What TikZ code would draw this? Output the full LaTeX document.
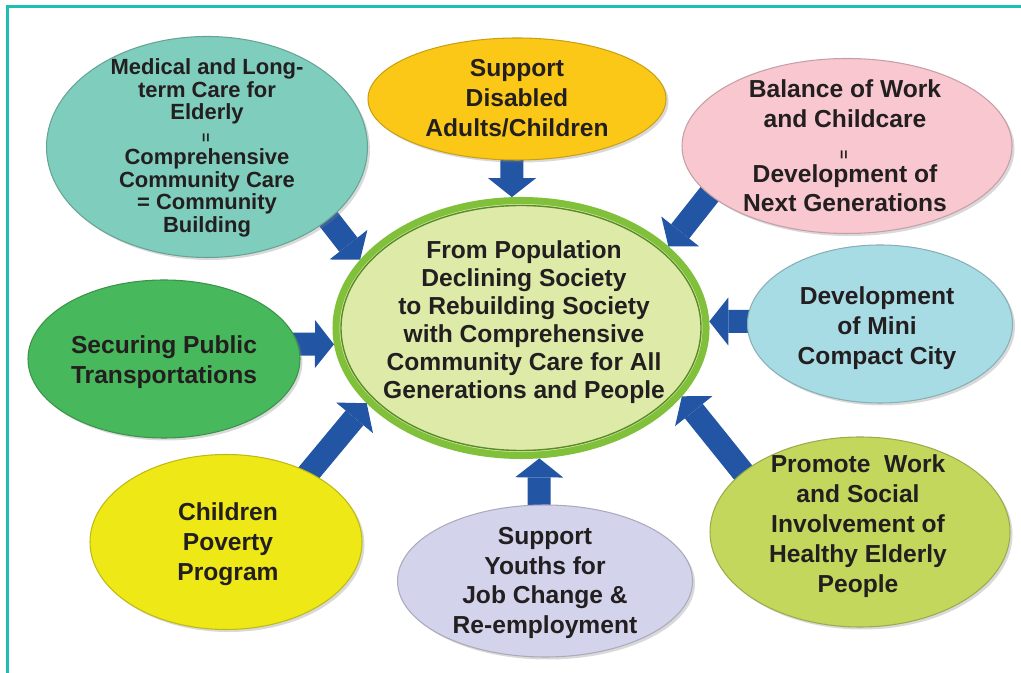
\documentclass[tikz,border=0pt]{standalone}
\usepackage{fontspec}
\setmainfont{Liberation Sans}
\usetikzlibrary{shapes.geometric,arrows.meta,shadows}

\definecolor{frame}{RGB}{30,190,180}
\definecolor{ink}{RGB}{35,31,32}
\definecolor{arrowblue}{RGB}{35,85,165}
\definecolor{tealfill}{RGB}{127,205,188}
\definecolor{sunfill}{RGB}{252,200,24}
\definecolor{pinkfill}{RGB}{248,199,207}
\definecolor{skyfill}{RGB}{167,220,228}
\definecolor{limefill}{RGB}{194,215,92}
\definecolor{lilacfill}{RGB}{211,212,235}
\definecolor{lemonfill}{RGB}{238,232,22}
\definecolor{grassfill}{RGB}{72,184,92}
\definecolor{corefill}{RGB}{222,234,168}
\definecolor{ringgreen}{RGB}{128,192,58}
\definecolor{ringdark}{RGB}{88,140,40}

\tikzset{
  oval/.style={ellipse, inner sep=0pt, fill=#1, draw=#1!80!black, line width=0.6pt,
    drop shadow={opacity=0.3, shadow xshift=0.5mm, shadow yshift=-0.5mm}},
  txt/.style={font=\fontsize{14}{17}\selectfont\bfseries, text=ink, align=center, inner sep=0pt},
  bigarrow/.style={draw=arrowblue, line width=0.46cm,
    -{Triangle[length=0.38cm, width=0.96cm, line width=0pt]}}
}
\newcommand{\eqbar}{{\fontsize{9}{9}\selectfont\rotatebox{90}{=}}}

\begin{document}
\begin{tikzpicture}
\useasboundingbox (0,0) rectangle (20.42,13.46);
% frame, only left and top edges fall on the page
\draw[frame, line width=1.4pt] (0.15,-1) -- (0.15,13.33) -- (21.5,13.33);

% centre
\node[ellipse, inner sep=0pt, fill=corefill, draw=ringgreen, line width=4pt,
  minimum width=7.4cm, minimum height=5.1cm] (centre) at (10.42,6.90) {};
\draw[ringdark, line width=0.8pt] (centre) ellipse (3.6 and 2.45);
\node[txt, font=\fontsize{14}{15.9}\selectfont\bfseries] (centre-t) at (10.48,7.02)
  {From Population\\Declining Society\\to Rebuilding Society\\with Comprehensive\\Community Care for All\\Generations and People};

% arrows into the centre
\coordinate (t-elderly) at (6.38,9.32);
\coordinate (t-disabled) at (10.24,10.30);
\coordinate (t-childcare) at (14.32,9.74);
\coordinate (t-compact) at (15.20,7.03);
\coordinate (t-healthy) at (15.04,3.79);
\coordinate (t-youths) at (10.78,3.25);
\coordinate (t-poverty) at (6.10,3.91);
\coordinate (t-transport) at (5.80,6.58);
\draw[bigarrow] (t-elderly) -- (centre.157);
\draw[bigarrow] (t-disabled) -- (centre.94);
\draw[bigarrow] (t-childcare) -- (centre.29);
\draw[bigarrow] (t-compact) -- (centre.2);
\draw[bigarrow] (t-healthy) -- (centre.337);
\draw[bigarrow] (t-youths) -- (centre.278);
\draw[bigarrow] (t-poverty) -- (centre.206);
\draw[bigarrow] (t-transport) -- (centre.185);

% outer ovals
\node[oval=tealfill, minimum width=6.42cm, minimum height=4.42cm] (elderly) at (4.14,10.52) {};
\node[txt, font=\fontsize{12.5}{12.8}\selectfont\bfseries] (elderly-t) at (4.14,10.50)
  {Medical and Long-\\term Care for\\Elderly\\\eqbar\\Comprehensive\\Community Care\\= Community\\Building};

\node[oval=sunfill, minimum width=5.96cm, minimum height=2.44cm] (disabled) at (10.34,11.48) {};
\node[txt] (disabled-t) at (10.34,11.50) {Support\\Disabled\\Adults/Children};

\node[oval=pinkfill, minimum width=6.6cm, minimum height=3.5cm] (childcare) at (16.94,10.54) {};
\node[txt] (childcare-t) at (16.90,10.54)
  {Balance of Work\\and Childcare\\[1pt]\eqbar\\[-4pt]Development of\\Next Generations};

\node[oval=skyfill, minimum width=5.3cm, minimum height=3.16cm] (compact) at (17.60,6.98) {};
\node[txt] (compact-t) at (17.54,6.90) {Development\\of Mini\\Compact City};

\node[oval=limefill, minimum width=6.0cm, minimum height=3.8cm] (healthy) at (17.20,2.82) {};
\node[txt] (healthy-t) at (17.16,2.94)
  {Promote~ Work\\and Social\\Involvement of\\Healthy Elderly\\People};

\node[oval=lilacfill, minimum width=5.9cm, minimum height=3.04cm] (youths) at (10.90,1.84) {};
\node[txt] (youths-t) at (10.90,1.80) {Support\\Youths for\\Job Change \&\\Re-employment};

\node[oval=lemonfill, minimum width=5.44cm, minimum height=3.5cm] (poverty) at (4.52,2.62) {};
\node[txt] (poverty-t) at (4.56,2.58) {Children\\Poverty\\Program};

\node[oval=grassfill, minimum width=5.44cm, minimum height=3.16cm] (transport) at (3.28,6.28) {};
\node[txt] (transport-t) at (3.28,6.22) {Securing Public\\Transportations};
\end{tikzpicture}
\end{document}
